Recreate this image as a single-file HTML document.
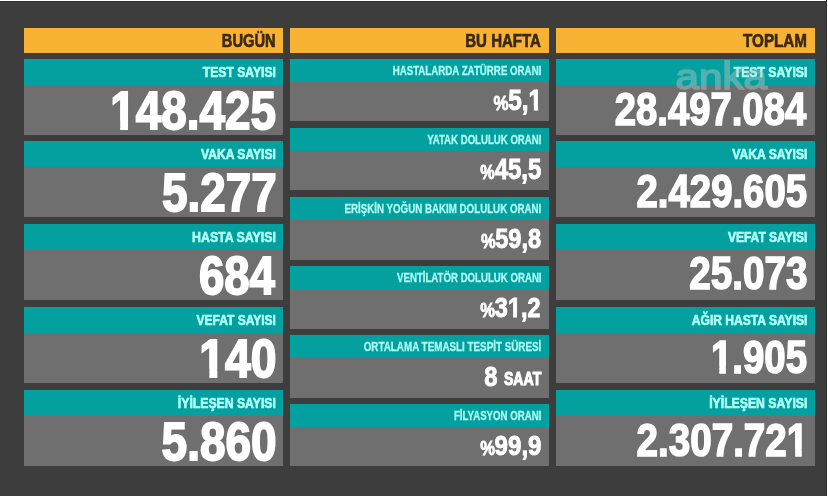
<!DOCTYPE html>
<html><head><meta charset="utf-8"><style>
html,body{margin:0;padding:0}
body{width:828px;height:496px;background:#3d3d3d;position:relative;overflow:hidden;font-family:"Liberation Sans",sans-serif}
.b{position:absolute}
.t{position:absolute;white-space:nowrap;transform-origin:0 0;left:0;top:0;font-family:"Liberation Sans",sans-serif;font-weight:bold}
.one{display:inline-block;clip-path:polygon(-5% -5%,105% -5%,105% calc(0.72em - 1px),0.3875em calc(0.72em - 1px),0.3875em 110%,0.2175em 110%,0.2175em calc(0.72em - 1px),-5% calc(0.72em - 1px))}
</style></head><body>

<div id="w" style="position:absolute;left:0;top:0;width:828px;height:496px;filter:blur(0.4px)">
<div class="b" style="left:24px;top:28px;width:259px;height:25px;background:#f8b234"></div>
<div class="b" style="left:290px;top:28px;width:259px;height:25px;background:#f8b234"></div>
<div class="b" style="left:556px;top:28px;width:259px;height:25px;background:#f8b234"></div>
<div class="b" style="left:24px;top:59px;width:259px;height:26px;background:#03a09f"></div>
<div class="b" style="left:24px;top:85px;width:259px;height:50px;background:#706f6f"></div>
<div class="b" style="left:24px;top:141px;width:259px;height:26px;background:#03a09f"></div>
<div class="b" style="left:24px;top:167px;width:259px;height:50px;background:#706f6f"></div>
<div class="b" style="left:24px;top:224px;width:259px;height:25px;background:#03a09f"></div>
<div class="b" style="left:24px;top:249px;width:259px;height:51px;background:#706f6f"></div>
<div class="b" style="left:24px;top:307px;width:259px;height:26px;background:#03a09f"></div>
<div class="b" style="left:24px;top:333px;width:259px;height:50px;background:#706f6f"></div>
<div class="b" style="left:24px;top:390px;width:259px;height:26px;background:#03a09f"></div>
<div class="b" style="left:24px;top:416px;width:259px;height:50px;background:#706f6f"></div>
<div class="b" style="left:556px;top:59px;width:259px;height:26px;background:#03a09f"></div>
<div class="b" style="left:556px;top:85px;width:259px;height:50px;background:#706f6f"></div>
<div class="b" style="left:556px;top:141px;width:259px;height:26px;background:#03a09f"></div>
<div class="b" style="left:556px;top:167px;width:259px;height:50px;background:#706f6f"></div>
<div class="b" style="left:556px;top:224px;width:259px;height:25px;background:#03a09f"></div>
<div class="b" style="left:556px;top:249px;width:259px;height:51px;background:#706f6f"></div>
<div class="b" style="left:556px;top:307px;width:259px;height:26px;background:#03a09f"></div>
<div class="b" style="left:556px;top:333px;width:259px;height:50px;background:#706f6f"></div>
<div class="b" style="left:556px;top:390px;width:259px;height:26px;background:#03a09f"></div>
<div class="b" style="left:556px;top:416px;width:259px;height:50px;background:#706f6f"></div>
<div class="b" style="left:290px;top:59px;width:259px;height:23px;background:#03a09f"></div>
<div class="b" style="left:290px;top:82px;width:259px;height:39px;background:#706f6f"></div>
<div class="b" style="left:290px;top:128px;width:259px;height:23px;background:#03a09f"></div>
<div class="b" style="left:290px;top:151px;width:259px;height:39px;background:#706f6f"></div>
<div class="b" style="left:290px;top:197px;width:259px;height:23px;background:#03a09f"></div>
<div class="b" style="left:290px;top:220px;width:259px;height:40px;background:#706f6f"></div>
<div class="b" style="left:290px;top:266px;width:259px;height:23px;background:#03a09f"></div>
<div class="b" style="left:290px;top:289px;width:259px;height:40px;background:#706f6f"></div>
<div class="b" style="left:290px;top:335px;width:259px;height:23px;background:#03a09f"></div>
<div class="b" style="left:290px;top:358px;width:259px;height:40px;background:#706f6f"></div>
<div class="b" style="left:290px;top:404px;width:259px;height:23px;background:#03a09f"></div>
<div class="b" style="left:290px;top:427px;width:259px;height:39px;background:#706f6f"></div>
<div class="t" style="font-weight:bold;transform:translate(221.78px,32.20px) scaleX(0.81279);font-size:18.107px;line-height:18.107px;letter-spacing:0.000em;-webkit-text-stroke:0.634px #3a2913;color:#3a2913">BUGÜN</div>
<div class="t" style="font-weight:bold;transform:translate(465.26px,32.01px) scaleX(0.82108);font-size:18.325px;line-height:18.325px;letter-spacing:0.000em;-webkit-text-stroke:0.641px #3a2913;color:#3a2913">BU HAFTA</div>
<div class="t" style="font-weight:bold;transform:translate(743.10px,32.20px) scaleX(0.84022);font-size:18.108px;line-height:18.108px;letter-spacing:0.000em;-webkit-text-stroke:0.634px #3a2913;color:#3a2913">TOPLAM</div>
<div class="t" style="font-weight:bold;transform:translate(202.74px,65.07px) scaleX(0.85853);font-size:14.162px;line-height:14.162px;letter-spacing:0.000em;-webkit-text-stroke:0.637px #b0fff8;color:#b0fff8">TEST SAYISI</div>
<div class="t" style="font-weight:bold;transform:translate(110.27px,84.02px) scaleX(0.86076);font-size:53.252px;line-height:53.252px;letter-spacing:0.000em;-webkit-text-stroke:1.864px #ffffff;color:#ffffff"><span class="one">1</span>48.425</div>
<div class="t" style="font-weight:bold;transform:translate(200.99px,147.07px) scaleX(0.85544);font-size:14.162px;line-height:14.162px;letter-spacing:0.000em;-webkit-text-stroke:0.637px #b0fff8;color:#b0fff8">VAKA SAYISI</div>
<div class="t" style="font-weight:bold;transform:translate(162.09px,166.02px) scaleX(0.86000);font-size:53.254px;line-height:53.254px;letter-spacing:0.000em;-webkit-text-stroke:1.864px #ffffff;color:#ffffff">5.277</div>
<div class="t" style="font-weight:bold;transform:translate(192.06px,230.07px) scaleX(0.87142);font-size:14.162px;line-height:14.162px;letter-spacing:0.000em;-webkit-text-stroke:0.637px #b0fff8;color:#b0fff8">HASTA SAYISI</div>
<div class="t" style="font-weight:bold;transform:translate(198.94px,249.02px) scaleX(0.85530);font-size:53.248px;line-height:53.248px;letter-spacing:0.000em;-webkit-text-stroke:1.864px #ffffff;color:#ffffff">684</div>
<div class="t" style="font-weight:bold;transform:translate(196.49px,313.07px) scaleX(0.84834);font-size:14.162px;line-height:14.162px;letter-spacing:0.000em;-webkit-text-stroke:0.637px #b0fff8;color:#b0fff8">VEFAT SAYISI</div>
<div class="t" style="font-weight:bold;transform:translate(199.35px,332.02px) scaleX(0.86930);font-size:53.251px;line-height:53.251px;letter-spacing:0.000em;-webkit-text-stroke:1.864px #ffffff;color:#ffffff"><span class="one">1</span>40</div>
<div class="t" style="font-weight:bold;transform:translate(177.86px,396.07px) scaleX(0.86338);font-size:14.162px;line-height:14.162px;letter-spacing:0.000em;-webkit-text-stroke:0.637px #b0fff8;color:#b0fff8">İYİLEŞEN SAYISI</div>
<div class="t" style="font-weight:bold;transform:translate(161.59px,415.02px) scaleX(0.86292);font-size:53.248px;line-height:53.248px;letter-spacing:0.000em;-webkit-text-stroke:1.864px #ffffff;color:#ffffff">5.860</div>
<div class="t" style="font-weight:bold;transform:translate(733.64px,65.07px) scaleX(0.86561);font-size:14.162px;line-height:14.162px;letter-spacing:0.000em;-webkit-text-stroke:0.637px #b0fff8;color:#b0fff8">TEST SAYISI</div>
<div class="t" style="font-weight:bold;transform:translate(614.75px,86.50px) scaleX(0.83889);font-size:45.604px;line-height:45.604px;letter-spacing:0.000em;-webkit-text-stroke:1.596px #ffffff;color:#ffffff">28.497.084</div>
<div class="t" style="font-weight:bold;transform:translate(732.29px,147.07px) scaleX(0.85773);font-size:14.162px;line-height:14.162px;letter-spacing:0.000em;-webkit-text-stroke:0.637px #b0fff8;color:#b0fff8">VAKA SAYISI</div>
<div class="t" style="font-weight:bold;transform:translate(636.55px,168.50px) scaleX(0.84062);font-size:45.603px;line-height:45.603px;letter-spacing:0.000em;-webkit-text-stroke:1.596px #ffffff;color:#ffffff">2.429.605</div>
<div class="t" style="font-weight:bold;transform:translate(727.89px,230.07px) scaleX(0.84941);font-size:14.162px;line-height:14.162px;letter-spacing:0.000em;-webkit-text-stroke:0.637px #b0fff8;color:#b0fff8">VEFAT SAYISI</div>
<div class="t" style="font-weight:bold;transform:translate(689.15px,251.49px) scaleX(0.84788);font-size:45.606px;line-height:45.606px;letter-spacing:0.000em;-webkit-text-stroke:1.596px #ffffff;color:#ffffff">25.073</div>
<div class="t" style="font-weight:bold;transform:translate(691.78px,313.07px) scaleX(0.85289);font-size:14.162px;line-height:14.162px;letter-spacing:0.000em;-webkit-text-stroke:0.637px #b0fff8;color:#b0fff8">AĞIR HASTA SAYISI</div>
<div class="t" style="font-weight:bold;transform:translate(710.95px,334.50px) scaleX(0.84237);font-size:45.606px;line-height:45.606px;letter-spacing:0.000em;-webkit-text-stroke:1.596px #ffffff;color:#ffffff"><span class="one">1</span>.905</div>
<div class="t" style="font-weight:bold;transform:translate(709.16px,396.07px) scaleX(0.86516);font-size:14.162px;line-height:14.162px;letter-spacing:0.000em;-webkit-text-stroke:0.637px #b0fff8;color:#b0fff8">İYİLEŞEN SAYISI</div>
<div class="t" style="font-weight:bold;transform:translate(636.55px,417.50px) scaleX(0.84647);font-size:45.604px;line-height:45.604px;letter-spacing:0.000em;-webkit-text-stroke:1.596px #ffffff;color:#ffffff">2.307.72<span class="one">1</span></div>
<div class="t" style="font-weight:bold;transform:translate(392.65px,64.19px) scaleX(0.72427);font-size:13.425px;line-height:13.425px;letter-spacing:0.000em;-webkit-text-stroke:0.268px #b0fff8;color:#b0fff8">HASTALARDA ZATÜRRE ORANI</div>
<div class="t" style="font-weight:bold;transform:translate(427.19px,133.19px) scaleX(0.71760);font-size:13.425px;line-height:13.425px;letter-spacing:0.000em;-webkit-text-stroke:0.268px #b0fff8;color:#b0fff8">YATAK DOLULUK ORANI</div>
<div class="t" style="font-weight:bold;transform:translate(344.45px,202.19px) scaleX(0.72670);font-size:13.425px;line-height:13.425px;letter-spacing:0.000em;-webkit-text-stroke:0.268px #b0fff8;color:#b0fff8">ERİŞKİN YOĞUN BAKIM DOLULUK ORANI</div>
<div class="t" style="font-weight:bold;transform:translate(397.07px,271.19px) scaleX(0.71927);font-size:13.425px;line-height:13.425px;letter-spacing:0.000em;-webkit-text-stroke:0.268px #b0fff8;color:#b0fff8">VENTİLATÖR DOLULUK ORANI</div>
<div class="t" style="font-weight:bold;transform:translate(363.70px,340.19px) scaleX(0.73380);font-size:13.425px;line-height:13.425px;letter-spacing:0.000em;-webkit-text-stroke:0.268px #b0fff8;color:#b0fff8">ORTALAMA TEMASLI TESPİT SÜRESİ</div>
<div class="t" style="font-weight:bold;transform:translate(453.95px,409.19px) scaleX(0.72187);font-size:13.425px;line-height:13.425px;letter-spacing:0.000em;-webkit-text-stroke:0.268px #b0fff8;color:#b0fff8">FİLYASYON ORANI</div>
<div class="t" style="font-weight:bold;transform:translate(493.62px,94.39px) scaleX(0.86772);font-size:19.559px;line-height:19.559px;letter-spacing:0.000em;-webkit-text-stroke:0.782px #ffffff;color:#ffffff">%</div>
<div class="t" style="font-weight:bold;transform:translate(508.30px,86.03px) scaleX(0.85099);font-size:28.649px;line-height:28.649px;letter-spacing:0.000em;-webkit-text-stroke:0.917px #ffffff;color:#ffffff">5,<span class="one">1</span></div>
<div class="t" style="font-weight:bold;transform:translate(480.32px,163.39px) scaleX(0.82696);font-size:19.559px;line-height:19.559px;letter-spacing:0.000em;-webkit-text-stroke:0.782px #ffffff;color:#ffffff">%</div>
<div class="t" style="font-weight:bold;transform:translate(494.63px,155.03px) scaleX(0.83679);font-size:28.649px;line-height:28.649px;letter-spacing:0.000em;-webkit-text-stroke:0.917px #ffffff;color:#ffffff">45,5</div>
<div class="t" style="font-weight:bold;transform:translate(480.92px,232.39px) scaleX(0.84443);font-size:19.559px;line-height:19.559px;letter-spacing:0.000em;-webkit-text-stroke:0.782px #ffffff;color:#ffffff">%</div>
<div class="t" style="font-weight:bold;transform:translate(495.21px,224.37px) scaleX(0.83518);font-size:28.263px;line-height:28.263px;letter-spacing:0.000em;-webkit-text-stroke:0.904px #ffffff;color:#ffffff">59,8</div>
<div class="t" style="font-weight:bold;transform:translate(480.32px,301.39px) scaleX(0.85025);font-size:19.559px;line-height:19.559px;letter-spacing:0.000em;-webkit-text-stroke:0.782px #ffffff;color:#ffffff">%</div>
<div class="t" style="font-weight:bold;transform:translate(494.87px,293.37px) scaleX(0.83059);font-size:28.265px;line-height:28.265px;letter-spacing:0.000em;-webkit-text-stroke:0.904px #ffffff;color:#ffffff">3<span class="one">1</span>,2</div>
<div class="t" style="font-weight:bold;transform:translate(484.13px,362.37px) scaleX(0.84091);font-size:28.265px;line-height:28.265px;letter-spacing:0.000em;-webkit-text-stroke:0.904px #ffffff;color:#ffffff">8</div>
<div class="t" style="font-weight:bold;transform:translate(504.00px,370.57px) scaleX(0.79590);font-size:17.662px;line-height:17.662px;letter-spacing:0.000em;-webkit-text-stroke:1.060px #ffffff;color:#ffffff">SAAT</div>
<div class="t" style="font-weight:bold;transform:translate(480.32px,439.39px) scaleX(0.85025);font-size:19.559px;line-height:19.559px;letter-spacing:0.000em;-webkit-text-stroke:0.782px #ffffff;color:#ffffff">%</div>
<div class="t" style="font-weight:bold;transform:translate(494.55px,431.37px) scaleX(0.85372);font-size:28.262px;line-height:28.262px;letter-spacing:0.000em;-webkit-text-stroke:0.904px #ffffff;color:#ffffff">99,9</div>
<div class="t" style="font-weight:normal;transform:translate(675.56px,59.78px) scaleX(1.22528);font-size:34.428px;line-height:34.428px;letter-spacing:0.000em;-webkit-text-stroke:1.549px rgb(170,196,196);color:rgb(170,196,196);opacity:0.48">an<span style="display:inline-block;transform:scaleY(1.13);transform-origin:50% 84.5%">k</span>a</div>
</div>
<div class="b" style="left:0px;top:0px;width:828px;height:1px;background:#ffffff"></div>
<div class="b" style="left:0px;top:1px;width:828px;height:1px;background:#2f2f2f"></div>
<div class="b" style="left:827px;top:0px;width:1px;height:496px;background:#ffffff"></div>
<div class="b" style="left:826px;top:0px;width:1px;height:496px;background:#2f2f2f"></div>
</body></html>
